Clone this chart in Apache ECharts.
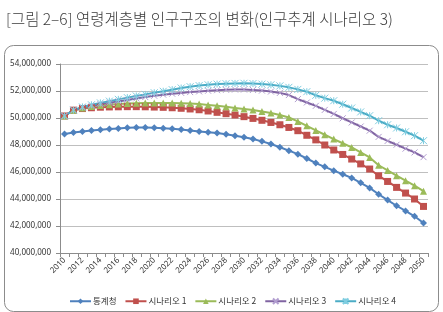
<!DOCTYPE html>
<html>
<head>
<meta charset="utf-8">
<script src="https://cdn.jsdelivr.net/npm/echarts@6/dist/echarts.min.js"></script>
<style>
  html, body { margin: 0; padding: 0; background: #ffffff; }
  #chart { width: 443px; height: 312px; }
</style>
</head>
<body>
<div id="chart"></div>
<script>
// years on the x axis
const years = [];
for (let y = 2010; y <= 2050; y++) years.push(String(y));

// population, millions
const kostat = [
  48.82, 48.93, 49.00, 49.07, 49.13, 49.18, 49.23, 49.27, 49.29, 49.29,
  49.27, 49.24, 49.20, 49.14, 49.07, 49.00, 48.95, 48.89, 48.80, 48.69,
  48.57, 48.44, 48.27, 48.07, 47.83, 47.58, 47.32, 47.00, 46.66, 46.38,
  46.10, 45.83, 45.56, 45.20, 44.82, 44.35, 43.92, 43.50, 43.12, 42.72,
  42.22
];
const scenario1 = [
  50.15, 50.58, 50.70, 50.76, 50.80, 50.82, 50.83, 50.84, 50.84, 50.83,
  50.81, 50.79, 50.76, 50.72, 50.67, 50.61, 50.52, 50.42, 50.32, 50.22,
  50.10, 49.97, 49.83, 49.67, 49.50, 49.30, 49.06, 48.72, 48.38, 48.00,
  47.63, 47.30, 46.96, 46.60, 46.22, 45.72, 45.30, 44.86, 44.44, 44.00,
  43.45
];
const scenario2 = [
  50.15, 50.58, 50.74, 50.85, 50.93, 50.99, 51.04, 51.08, 51.10, 51.11,
  51.12, 51.12, 51.11, 51.10, 51.07, 51.03, 50.97, 50.91, 50.83, 50.74,
  50.67, 50.59, 50.48, 50.37, 50.22, 50.04, 49.75, 49.42, 49.08, 48.76,
  48.44, 48.13, 47.82, 47.45, 47.08, 46.50, 46.12, 45.73, 45.36, 44.99,
  44.58
];
const scenario3 = [
  50.15, 50.58, 50.78, 50.90, 51.02, 51.13, 51.23, 51.34, 51.45, 51.55,
  51.65, 51.73, 51.80, 51.86, 51.92, 51.97, 52.02, 52.06, 52.09, 52.11,
  52.11, 52.08, 52.03, 51.96, 51.86, 51.70, 51.40, 51.15, 50.90, 50.60,
  50.30, 49.98, 49.67, 49.37, 49.06, 48.60, 48.30, 48.02, 47.73, 47.45,
  47.10
];
const scenario4 = [
  50.15, 50.58, 50.82, 50.98, 51.12, 51.25, 51.38, 51.51, 51.63, 51.75,
  51.87, 51.98, 52.10, 52.22, 52.32, 52.40, 52.46, 52.51, 52.54, 52.56,
  52.57, 52.55, 52.51, 52.46, 52.38, 52.27, 52.12, 51.95, 51.68, 51.47,
  51.28, 51.02, 50.74, 50.45, 50.17, 49.80, 49.50, 49.26, 48.98, 48.69,
  48.32
];

const seriesNames = ["통계청", "시나리오 1", "시나리오 2", "시나리오 3", "시나리오 4"];
const colors = ["#4f81bd", "#c0504d", "#9bbb59", "#8064a2", "#4bacc6"];

const xMark = "path://M0,0L10,10M10,0L0,10";
const starMark = "path://M0,0L10,10M10,0L0,10M5,0L5,10";

function fmt(v) {
  return Math.round(v * 1000000).toLocaleString("en-US");
}

function makeLine(name, data, color, symbol, size, extra) {
  return Object.assign({
    name: name,
    type: "line",
    data: data,
    symbol: symbol,
    symbolSize: size,
    showAllSymbol: true,
    lineStyle: { color: color, width: 2 },
    itemStyle: { color: color },
    emphasis: { disabled: true },
    animation: false
  }, extra || {});
}

const chart = echarts.init(document.getElementById("chart"), null, { renderer: "canvas" });

chart.setOption({
  backgroundColor: "#ffffff",
  title: {
    text: "[그림 2–6] 연령계층별 인구구조의 변화(인구추계 시나리오 3)",
    left: 1,
    top: 6,
    textStyle: {
      fontFamily: "Noto Sans CJK KR",
      fontSize: 15.5,
      fontWeight: 300,
      color: "#3a3a3a"
    }
  },
  graphic: [{
    type: "rect",
    left: 2,
    top: 43,
    shape: { width: 434, height: 266, r: 9 },
    style: { fill: "none", stroke: "#8c8c8c", lineWidth: 1 },
    z: -1
  }],
  grid: { left: 60, right: 15, top: 64, bottom: 59 },
  legend: {
    top: 292,
    left: 64,
    itemWidth: 21,
    itemHeight: 7,
    itemGap: 8,
    data: seriesNames,
    textStyle: { fontFamily: "Noto Sans CJK KR", fontSize: 8.5, color: "#333333", padding: [0, 0, 0, -3] }
  },
  xAxis: {
    type: "category",
    data: years,
    boundaryGap: true,
    axisLine: { lineStyle: { color: "#8c8c8c" } },
    axisTick: { show: true, length: 4, alignWithLabel: false, interval: 0, lineStyle: { color: "#8c8c8c" } },
    axisLabel: {
      interval: 1,
      rotate: 45,
      fontSize: 8,
      color: "#333333",
      fontFamily: "Noto Sans",
      margin: 6
    }
  },
  yAxis: {
    type: "value",
    min: 40,
    max: 54,
    interval: 2,
    axisLine: { show: true, lineStyle: { color: "#8c8c8c" } },
    axisTick: { show: true, length: 4, lineStyle: { color: "#8c8c8c" } },
    splitLine: { lineStyle: { color: "#bfbfbf" } },
    axisLabel: {
      fontSize: 8,
      color: "#333333",
      fontFamily: "Noto Sans",
      margin: 9,
      formatter: fmt
    }
  },
  series: [
    makeLine(seriesNames[0], kostat, colors[0], "diamond", 7),
    makeLine(seriesNames[1], scenario1, colors[1], "rect", 7),
    makeLine(seriesNames[2], scenario2, colors[2], "triangle", 7),
    makeLine(seriesNames[3], scenario3, colors[3], xMark, 6, {
      itemStyle: { color: colors[3], borderColor: "#b29ed0", borderWidth: 1 }
    }),
    makeLine(seriesNames[4], scenario4, colors[4], starMark, 7, {
      itemStyle: { color: colors[4], borderColor: "#7fcde0", borderWidth: 1 }
    })
  ]
});
</script>
</body>
</html>
